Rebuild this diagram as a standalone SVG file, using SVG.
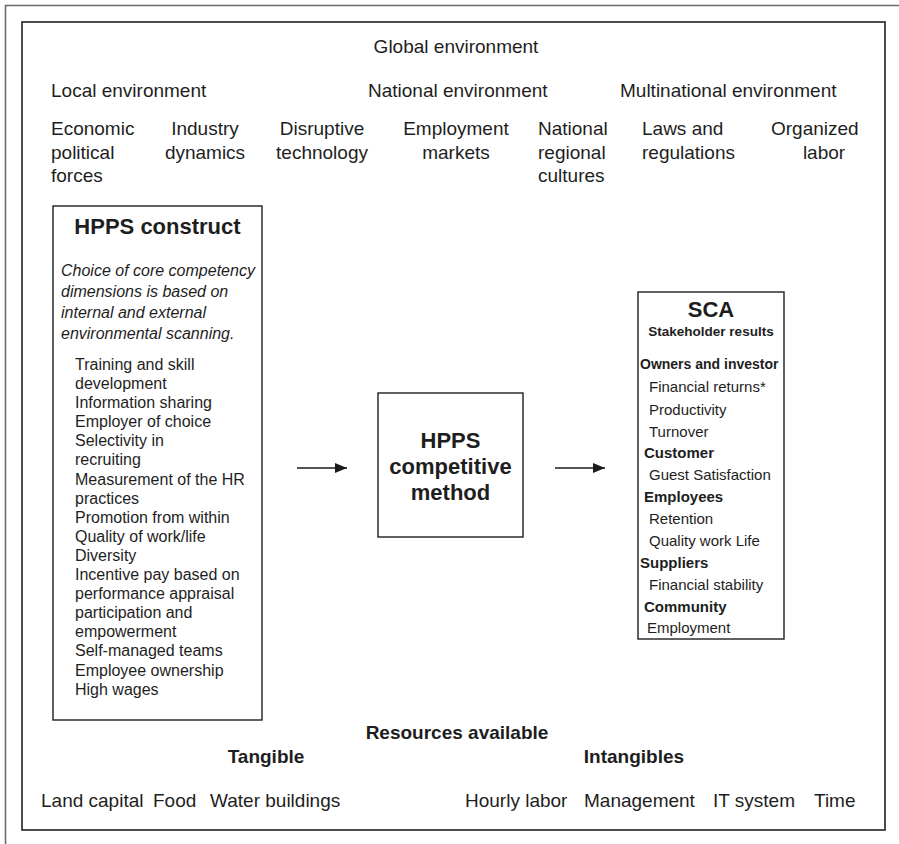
<svg xmlns="http://www.w3.org/2000/svg" width="899" height="844" viewBox="0 0 899 844">
  <defs>
    <marker id="arrowhead" viewBox="0 0 12 10" refX="12" refY="5" markerWidth="12" markerHeight="10" markerUnits="userSpaceOnUse" orient="auto">
      <path d="M0,0 L12,5 L0,10 Z" fill="#1a1a1a"/>
    </marker>
  </defs>
  <style>
    text { font-family: "Liberation Sans", Arial, Helvetica, sans-serif; fill: #1e1e1e; }
    .env { font-size: 19px; }
    .res { font-size: 19px; }
    .resb { font-size: 19px; font-weight: bold; }
    .title { font-size: 22px; font-weight: bold; }
    .note { font-size: 16px; font-style: italic; }
    .item { font-size: 16px; }
    .sca-item { font-size: 15px; }
    .sca-head { font-size: 15px; font-weight: bold; }
    .mid { text-anchor: middle; }
    .box { fill: #ffffff; stroke: #1e1e1e; stroke-width: 1.4; }
    .frame { fill: none; stroke: #222222; stroke-width: 1.6; }
    .outer { fill: none; stroke: #6a6a6a; stroke-width: 1.6; }
    .link { stroke: #1a1a1a; stroke-width: 1.5; fill: none; }
  </style>

  <rect width="899" height="844" fill="#ffffff"/>

  <!-- outer page rule and inner frame -->
  <path class="outer" d="M5.5,844 L5.5,5.5 L899,5.5"/>
  <rect class="frame" x="22" y="22" width="863" height="808"/>

  <!-- environment layers -->
  <g id="environment">
    <text class="env mid" x="456" y="53">Global environment</text>
    <text class="env" x="51" y="97">Local environment</text>
    <text class="env" x="368" y="97">National environment</text>
    <text class="env" x="620" y="97">Multinational environment</text>

    <text class="env" x="51" y="135">Economic</text>
    <text class="env" x="51" y="159">political</text>
    <text class="env" x="51" y="182">forces</text>

    <text class="env mid" x="205" y="135">Industry</text>
    <text class="env mid" x="205" y="159">dynamics</text>

    <text class="env mid" x="322" y="135">Disruptive</text>
    <text class="env mid" x="322" y="159">technology</text>

    <text class="env mid" x="456" y="135">Employment</text>
    <text class="env mid" x="456" y="159">markets</text>

    <text class="env" x="538" y="135">National</text>
    <text class="env" x="538" y="159">regional</text>
    <text class="env" x="538" y="182">cultures</text>

    <text class="env" x="642" y="135">Laws and</text>
    <text class="env" x="642" y="159">regulations</text>

    <text class="env" x="771" y="135">Organized</text>
    <text class="env mid" x="824" y="159">labor</text>
  </g>

  <!-- HPPS construct -->
  <g id="hpps-construct">
    <rect class="box" x="53" y="206" width="209" height="514"/>
    <text class="title mid" x="157.5" y="234">HPPS construct</text>
    <text class="note" x="61" y="276">Choice of core competency</text>
    <text class="note" x="61" y="297">dimensions is based on</text>
    <text class="note" x="61" y="318">internal and external</text>
    <text class="note" x="61" y="339">environmental scanning.</text>
    <text class="item" x="75" y="370">Training and skill</text>
    <text class="item" x="75" y="389">development</text>
    <text class="item" x="75" y="408">Information sharing</text>
    <text class="item" x="75" y="427">Employer of choice</text>
    <text class="item" x="75" y="446">Selectivity in</text>
    <text class="item" x="75" y="465">recruiting</text>
    <text class="item" x="75" y="485">Measurement of the HR</text>
    <text class="item" x="75" y="504">practices</text>
    <text class="item" x="75" y="523">Promotion from within</text>
    <text class="item" x="75" y="542">Quality of work/life</text>
    <text class="item" x="75" y="561">Diversity</text>
    <text class="item" x="75" y="580">Incentive pay based on</text>
    <text class="item" x="75" y="599">performance appraisal</text>
    <text class="item" x="75" y="618">participation and</text>
    <text class="item" x="75" y="637">empowerment</text>
    <text class="item" x="75" y="656">Self-managed teams</text>
    <text class="item" x="75" y="676">Employee ownership</text>
    <text class="item" x="75" y="695">High wages</text>
  </g>

  <!-- HPPS competitive method -->
  <g id="hpps-method">
    <rect class="box" x="378" y="393" width="145" height="144"/>
    <text class="title mid" x="450.5" y="448">HPPS</text>
    <text class="title mid" x="450.5" y="474">competitive</text>
    <text class="title mid" x="450.5" y="500">method</text>
  </g>

  <!-- SCA stakeholder results -->
  <g id="sca">
    <rect class="box" x="638" y="292" width="146" height="347"/>
    <text class="title mid" x="711" y="317">SCA</text>
    <text class="mid" x="711" y="336" style="font-size:13.5px;font-weight:bold">Stakeholder results</text>
    <text class="sca-head" x="640" y="369" style="font-size:14px">Owners and investor</text>
    <text class="sca-item" x="649" y="392">Financial returns*</text>
    <text class="sca-item" x="649" y="415">Productivity</text>
    <text class="sca-item" x="649" y="437">Turnover</text>
    <text class="sca-head" x="644" y="458">Customer</text>
    <text class="sca-item" x="649" y="480">Guest Satisfaction</text>
    <text class="sca-head" x="644" y="502">Employees</text>
    <text class="sca-item" x="649" y="524">Retention</text>
    <text class="sca-item" x="649" y="546">Quality work Life</text>
    <text class="sca-head" x="640" y="568">Suppliers</text>
    <text class="sca-item" x="649" y="590">Financial stability</text>
    <text class="sca-head" x="644" y="612">Community</text>
    <text class="sca-item" x="647" y="633">Employment</text>
  </g>

  <!-- resources -->
  <g id="resources">
    <text class="resb mid" x="457" y="739">Resources available</text>
    <text class="resb mid" x="266" y="763">Tangible</text>
    <text class="resb mid" x="634" y="763">Intangibles</text>
    <text class="res" x="41" y="807">Land capital</text>
    <text class="res" x="153" y="807">Food</text>
    <text class="res" x="210" y="807">Water buildings</text>
    <text class="res" x="465" y="807">Hourly labor</text>
    <text class="res" x="584" y="807">Management</text>
    <text class="res" x="713" y="807">IT system</text>
    <text class="res" x="814" y="807">Time</text>
  </g>

  <!-- connectors -->
  <g id="connectors">
    <line class="link" x1="297" y1="468" x2="347" y2="468" marker-end="url(#arrowhead)"/>
    <line class="link" x1="555" y1="468" x2="605" y2="468" marker-end="url(#arrowhead)"/>
  </g>
</svg>
